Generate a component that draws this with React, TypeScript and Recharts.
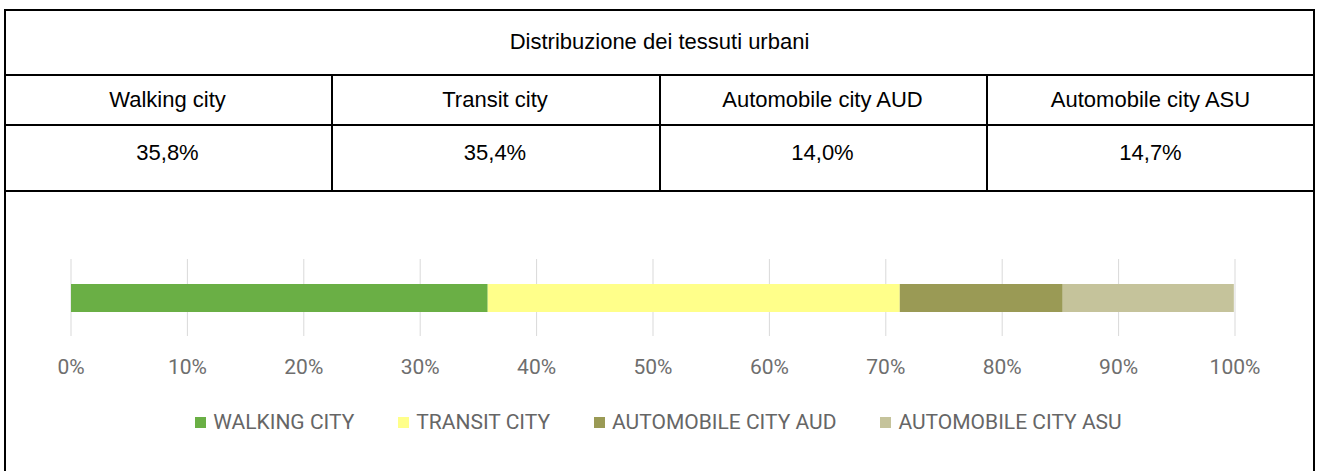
import React from 'react';
import { BarChart, Bar, XAxis, YAxis, CartesianGrid, Legend } from 'recharts';

const title = 'Distribuzione dei tessuti urbani';
const categories = ['Walking city', 'Transit city', 'Automobile city AUD', 'Automobile city ASU'];
const shares = [35.8, 35.4, 14.0, 14.7];
const colors = ['#6aaf45', '#ffff8a', '#9a9a55', '#c5c39b'];
const ticks = [0, 10, 20, 30, 40, 50, 60, 70, 80, 90, 100];

const keys = categories.map((_, i) => `s${i}`);
const chartData = [
  categories.reduce<Record<string, number | string>>(
    (row, _, i) => ({ ...row, [keys[i]]: shares[i] }),
    { name: 'tessuti' }
  ),
];

// table geometry (px)
const colEdges = [4, 331, 659, 986, 1315];
const rowLines = [74, 124, 190];

const fmt = (v: number) => `${v.toFixed(1).replace('.', ',')}%`;

const LegendContent = () => (
  <div
    style={{
      display: 'flex',
      justifyContent: 'center',
      gap: 44,
      fontFamily: 'Roboto, sans-serif',
      fontSize: 21,
      color: '#666666',
      lineHeight: '26px',
    }}
  >
    {categories.map((c, i) => (
      <div key={c} style={{ display: 'flex', alignItems: 'center' }}>
        <span style={{ display: 'inline-block', width: 11, height: 11, background: colors[i], marginRight: 7 }} />
        <span>{c.toUpperCase()}</span>
      </div>
    ))}
  </div>
);

const cellText: React.CSSProperties = {
  position: 'absolute',
  height: 26,
  lineHeight: '26px',
  textAlign: 'center',
  fontFamily: '"Liberation Sans", Arial, sans-serif',
  fontSize: 22,
  color: '#000',
};

export default function App() {
  return (
    <div style={{ position: 'absolute', left: 0, top: 0, width: 1317, height: 471, background: '#fff', overflow: 'hidden' }}>
      {/* outer frame */}
      <div style={{ position: 'absolute', left: 4, top: 9, width: 1311, height: 480, boxSizing: 'border-box', border: '2px solid #000' }} />
      {rowLines.map((y) => (
        <div key={y} style={{ position: 'absolute', left: 4, top: y, width: 1311, height: 2, background: '#000' }} />
      ))}
      {colEdges.slice(1, 4).map((x) => (
        <div key={x} style={{ position: 'absolute', left: x, top: 74, width: 2, height: 118, background: '#000' }} />
      ))}

      <div style={{ ...cellText, left: 4, width: 1311, top: 29 }}>{title}</div>
      {categories.map((c, i) => (
        <div key={c} style={{ ...cellText, left: colEdges[i], width: colEdges[i + 1] - colEdges[i], top: 87 }}>
          {c}
        </div>
      ))}
      {shares.map((v, i) => (
        <div key={i} style={{ ...cellText, left: colEdges[i], width: colEdges[i + 1] - colEdges[i], top: 140 }}>
          {fmt(v)}
        </div>
      ))}

      <div style={{ position: 'absolute', left: 0, top: 200 }}>
        <BarChart
          width={1317}
          height={262}
          data={chartData}
          layout="vertical"
          margin={{ top: 59, right: 82, left: 71, bottom: 86 }}
        >
          <CartesianGrid horizontal={false} stroke="#d9d9d9" />
          <XAxis
            type="number"
            domain={[0, 100]}
            ticks={ticks}
            tickFormatter={(v) => `${v}%`}
            axisLine={false}
            tickLine={false}
            tickMargin={17}
            height={40}
            tick={{ fill: '#6e6e6e', fontSize: 21, fontFamily: 'Roboto, sans-serif' }}
            interval={0}
          />
          <YAxis type="category" dataKey="name" hide />
          <Legend
            verticalAlign="middle"
            align="center"
            content={<LegendContent />}
            wrapperStyle={{ top: 209, left: 0, width: 1317 }}
          />
          {keys.map((k, i) => (
            <Bar
              key={k}
              dataKey={k}
              name={categories[i]}
              stackId="a"
              fill={colors[i]}
              barSize={28}
              isAnimationActive={false}
            />
          ))}
        </BarChart>
      </div>
    </div>
  );
}
